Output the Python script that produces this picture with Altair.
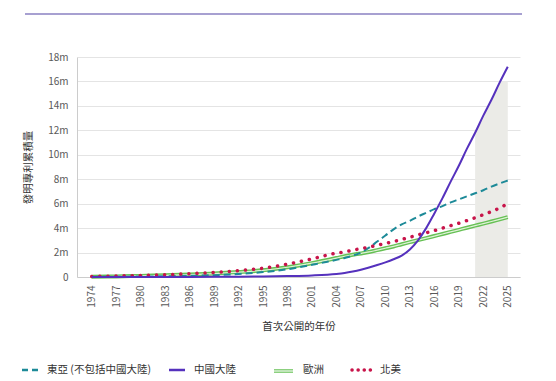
import altair as alt
import pandas as pd

# ---- data (cumulative invention patents, millions) ----
years = [1974, 1977, 1980, 1983, 1986, 1989, 1992, 1995, 1998, 2001,
         2004, 2005, 2006, 2007, 2008, 2009, 2010, 2011, 2012, 2013,
         2014, 2015, 2016, 2017, 2018, 2019, 2020, 2021, 2022, 2023,
         2024, 2025]

east_asia = [0.01, 0.02, 0.04, 0.06, 0.10, 0.15, 0.25, 0.40, 0.63, 1.00,
             1.40, 1.55, 1.75, 2.00, 2.40, 2.90, 3.40, 3.90, 4.30, 4.60,
             4.95, 5.25, 5.55, 5.80, 6.10, 6.35, 6.60, 6.85, 7.10, 7.40,
             7.65, 7.90]

china = [0.00, 0.00, 0.00, 0.01, 0.01, 0.02, 0.03, 0.05, 0.08, 0.13,
         0.25, 0.33, 0.45, 0.60, 0.78, 0.98, 1.20, 1.45, 1.75, 2.25,
         3.00, 4.00, 5.20, 6.45, 7.80, 9.10, 10.50, 11.80, 13.20, 14.50,
         15.90, 17.20]

europe = [0.02, 0.05, 0.09, 0.14, 0.20, 0.28, 0.40, 0.55, 0.80, 1.13,
          1.55, 1.70, 1.82, 1.93, 2.05, 2.20, 2.35, 2.50, 2.68, 2.85,
          3.02, 3.18, 3.35, 3.52, 3.69, 3.86, 4.03, 4.20, 4.37, 4.54,
          4.72, 4.90]

north_america = [0.04, 0.08, 0.13, 0.19, 0.27, 0.37, 0.52, 0.72, 1.05, 1.48,
                 1.95, 2.05, 2.20, 2.32, 2.45, 2.60, 2.75, 2.90, 3.07, 3.25,
                 3.45, 3.62, 3.80, 4.00, 4.20, 4.40, 4.62, 4.85, 5.10, 5.35,
                 5.65, 6.00]

band_years = [2021, 2022, 2023, 2024, 2024.1, 2025]
band_top = [11.8, 13.2, 14.5, 15.9, 16.0, 16.0]

tick_years = list(range(1974, 2026, 3))
y_ticks = list(range(0, 19, 2))

legend_labels = ["東亞 (不包括中國大陸)", "中國大陸", "歐洲", "北美"]

x_title = "首次公開的年份"
y_title = "發明專利累積量"

FONT = "Noto Sans CJK TC"
TEAL = "#1d8a98"
PURPLE = "#5531bd"
GREEN = "#66c054"
RED = "#c8144a"

df = pd.DataFrame({
    "year": years,
    "ea": east_asia,
    "cn": china,
    "eu": europe,
    "na": north_america,
})
band_df = pd.DataFrame({"year": band_years, "top": band_top})

x_enc = alt.X(
    "year:Q",
    scale=alt.Scale(domain=[1972.2, 2026.5], nice=False, zero=False),
    axis=alt.Axis(
        values=tick_years, format="d", labelAngle=-90, grid=False, ticks=False,
        labelPadding=8, title=x_title, titlePadding=14, titleFontWeight="normal",
    ),
)


def y_enc(field):
    return alt.Y(
        f"{field}:Q",
        scale=alt.Scale(domain=[0, 18], nice=False),
        axis=alt.Axis(
            values=y_ticks, grid=True, ticks=False, labelPadding=9,
            labelExpr="datum.value == 0 ? '0' : datum.value + 'm'",
            title=y_title, titlePadding=14, titleFontWeight="normal",
        ),
    )


base = alt.Chart(df)

band = alt.Chart(band_df).mark_area(color="#ebebe7", interpolate="linear").encode(
    x=x_enc, y=y_enc("top")
)

ea_line = base.mark_line(color=TEAL, strokeWidth=2, strokeDash=[7, 4],
                         interpolate="monotone").encode(x=x_enc, y=y_enc("ea"))
eu_outer = base.mark_line(color=GREEN, strokeWidth=4,
                          interpolate="monotone").encode(x=x_enc, y=y_enc("eu"))
eu_inner = base.mark_line(color="#dff2d8", strokeWidth=1.2,
                          interpolate="monotone").encode(x=x_enc, y=y_enc("eu"))
na_line = base.mark_line(color=RED, strokeWidth=3.5, strokeDash=[0.1, 8],
                         strokeCap="round", interpolate="monotone").encode(x=x_enc, y=y_enc("na"))
cn_line = base.mark_line(color=PURPLE, strokeWidth=2,
                         interpolate="monotone").encode(x=x_enc, y=y_enc("cn"))

# decorative top rule
top_rule = alt.Chart(pd.DataFrame({"k": [0]})).mark_rule(
    color="#8a80c2", strokeWidth=1.5
).encode(x=alt.value(-52), x2=alt.value(445), y=alt.value(-43))

# manual legend
LY = 313
leg_df = pd.DataFrame({"k": [0]})
leg_ea = alt.Chart(leg_df).mark_rule(color=TEAL, strokeWidth=2.5, strokeDash=[6, 4]).encode(
    x=alt.value(-55), x2=alt.value(-38), y=alt.value(LY))
leg_cn = alt.Chart(leg_df).mark_rule(color=PURPLE, strokeWidth=2.5).encode(
    x=alt.value(92), x2=alt.value(108), y=alt.value(LY))
leg_eu1 = alt.Chart(leg_df).mark_rule(color=GREEN, strokeWidth=3.5).encode(
    x=alt.value(197), x2=alt.value(216), y=alt.value(LY + 1))
leg_eu2 = alt.Chart(leg_df).mark_rule(color="#ffffff", strokeWidth=1.2).encode(
    x=alt.value(197), x2=alt.value(216), y=alt.value(LY + 1))
leg_na = alt.Chart(leg_df).mark_rule(color=RED, strokeWidth=3.5, strokeDash=[0.1, 6],
                                     strokeCap="round").encode(
    x=alt.value(275), x2=alt.value(294), y=alt.value(LY))

text_x = [-30, 117, 226, 303]
leg_text_layers = []
for lbl, tx in zip(legend_labels, text_x):
    leg_text_layers.append(
        alt.Chart(pd.DataFrame({"t": [lbl]})).mark_text(
            align="left", baseline="middle", fontSize=10.5, font=FONT, color="#333333"
        ).encode(text="t:N", x=alt.value(tx), y=alt.value(LY))
    )

chart = alt.layer(
    band, eu_outer, eu_inner, ea_line, na_line, cn_line,
    top_rule, leg_ea, leg_cn, leg_eu1, leg_eu2, leg_na, *leg_text_layers
).resolve_scale(y="shared").properties(
    width=443, height=220,
    padding={"left": 69, "top": 49, "right": 28, "bottom": 104},
    autosize=alt.AutoSizeParams(type="none"),
).configure_view(stroke=None).configure_axis(
    labelFont=FONT, titleFont=FONT, labelFontSize=10, titleFontSize=10.5,
    labelColor="#595959", titleColor="#333333",
    gridColor="#e4e4e4", domainColor="#cccccc", gridWidth=1,
)

chart.save("out.html", embed_options={"renderer": "svg", "actions": False})
